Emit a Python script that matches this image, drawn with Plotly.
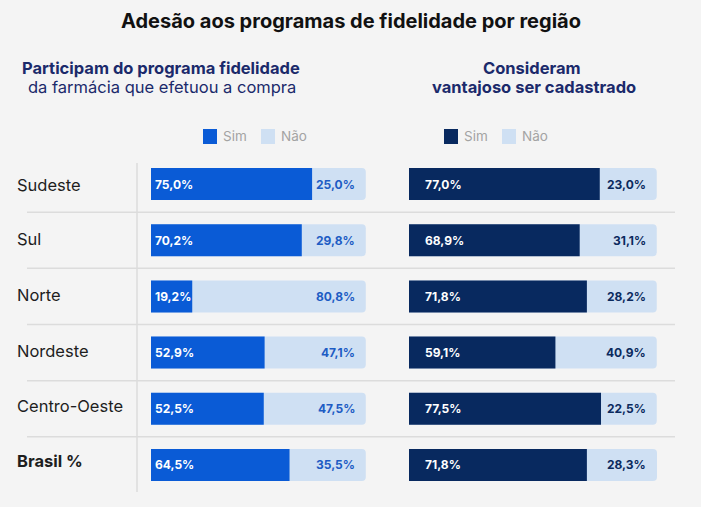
import plotly.graph_objects as go

regions = ["Sudeste", "Sul", "Norte", "Nordeste", "Centro-Oeste", "Brasil %"]
participam_sim = [75.0, 70.2, 19.2, 52.9, 52.5, 64.5]
participam_nao = [25.0, 29.8, 80.8, 47.1, 47.5, 35.5]
vantajoso_sim = [77.0, 68.9, 71.8, 59.1, 77.5, 71.8]
vantajoso_nao = [23.0, 31.1, 28.2, 40.9, 22.5, 28.3]

W, H = 701, 507
BG = "#f4f4f4"
FONT = "Inter"
LEFT_DARK = "#0a5bd6"
RIGHT_DARK = "#08295f"
LIGHT = "#cfe0f3"
LEFT_TXT = "#1d5cc4"
RIGHT_TXT = "#0b2a5e"
NAVY = "#1b2a6b"


def px(x):
    return x / W


def py(y):
    return 1 - y / H


def fmt(v):
    return f"{v:.1f}".replace(".", ",") + "%"


fig = go.Figure()
panels = [
    ("x", participam_sim, participam_nao, LEFT_DARK, LEFT_TXT, 2, 9),
    ("x2", vantajoso_sim, vantajoso_nao, RIGHT_DARK, RIGHT_TXT, 14, 9),
]
xmax = max(max(s + n for s, n in zip(participam_sim, participam_nao)),
           max(s + n for s, n in zip(vantajoso_sim, vantajoso_nao)))
annotations = []
for xa, sim, nao, dark, txtc, pad_l, pad_r in panels:
    totals = [s + n for s, n in zip(sim, nao)]
    fig.add_trace(go.Bar(x=totals, y=regions, orientation="h", xaxis=xa, yaxis="y",
                         marker=dict(color=LIGHT, cornerradius=4, line=dict(width=0)),
                         width=0.57, hoverinfo="skip", showlegend=False))
    fig.add_trace(go.Bar(x=sim, y=regions, orientation="h", xaxis=xa, yaxis="y",
                         marker=dict(color=dark, cornerradius=4, line=dict(width=0)),
                         width=0.57, hoverinfo="skip", showlegend=False))
    for r, s, n, t in zip(regions, sim, nao, totals):
        annotations.append(dict(x=0, y=r, xref=xa, yref="y", text=f"<b>{fmt(s)}</b>",
                                showarrow=False, xanchor="left", xshift=pad_l,
                                font=dict(family=FONT, size=12, color="white")))
        annotations.append(dict(x=t, y=r, xref=xa, yref="y", text=f"<b>{fmt(n)}</b>",
                                showarrow=False, xanchor="right", xshift=-pad_r,
                                font=dict(family=FONT, size=12, color=txtc)))

# row labels
label_dy = [-1, 1, 1, 2, 3, 4]
for r, dy in zip(regions, label_dy):
    txt = f"<b>{r}</b>" if r.startswith("Brasil") else r
    annotations.append(dict(x=px(17), y=r, xref="paper", yref="y", text=txt,
                            showarrow=False, xanchor="left", yshift=dy, xshift=-2,
                            font=dict(family=FONT, size=16.5, color="#1e1e1e")))

# titles
annotations += [
    dict(x=0.5, y=py(21), xref="paper", yref="paper", text="<b>Adesão aos programas de fidelidade por região</b>",
         showarrow=False, xanchor="center", yanchor="middle",
         font=dict(family=FONT, size=20, color="#111111")),
    dict(x=px(161), y=py(68), xref="paper", yref="paper", text="<b>Participam do programa fidelidade</b>",
         showarrow=False, xanchor="center", yanchor="middle",
         font=dict(family=FONT, size=16.5, color=NAVY)),
    dict(x=px(162), y=py(87), xref="paper", yref="paper", text="da farmácia que efetuou a compra",
         showarrow=False, xanchor="center", yanchor="middle",
         font=dict(family=FONT, size=16.5, color=NAVY)),
    dict(x=px(532), y=py(68), xref="paper", yref="paper", text="<b>Consideram</b>",
         showarrow=False, xanchor="center", yanchor="middle",
         font=dict(family=FONT, size=16.5, color=NAVY)),
    dict(x=px(534), y=py(87), xref="paper", yref="paper", text="<b>vantajoso ser cadastrado</b>",
         showarrow=False, xanchor="center", yanchor="middle",
         font=dict(family=FONT, size=16.5, color=NAVY)),
]

shapes = []
# legends
for x0, col, label in [(203, LEFT_DARK, "Sim"), (261, LIGHT, "Não"),
                       (444, RIGHT_DARK, "Sim"), (502, LIGHT, "Não")]:
    shapes.append(dict(type="rect", xref="paper", yref="paper", x0=px(x0), x1=px(x0 + 14),
                       y0=py(144), y1=py(129), fillcolor=col, line=dict(width=0)))
    annotations.append(dict(x=px(x0 + 18), y=py(136.5), xref="paper", yref="paper", text=label,
                            showarrow=False, xanchor="left", yanchor="middle",
                            font=dict(family=FONT, size=13.5, color="#a3a3a3")))

# separators
for i in range(len(regions) - 1):
    shapes.append(dict(type="line", xref="paper", yref="y", x0=px(27), x1=px(675),
                       y0=i + 0.5, y1=i + 0.5, line=dict(color="#dcdcdc", width=1.5), layer="below"))
shapes.append(dict(type="line", xref="paper", yref="paper", x0=px(137), x1=px(137),
                   y0=py(163), y1=py(492), line=dict(color="#dcdcdc", width=1.5), layer="below"))

fig.update_layout(
    width=W, height=H, margin=dict(l=0, r=0, t=0, b=0),
    paper_bgcolor=BG, plot_bgcolor=BG, barmode="overlay",
    xaxis=dict(domain=[px(151), px(366)], range=[0, xmax], visible=False, fixedrange=True),
    xaxis2=dict(domain=[px(409), px(657)], range=[0, xmax], visible=False, anchor="y", fixedrange=True),
    yaxis=dict(domain=[py(493), py(156)], categoryorder="array", categoryarray=regions,
               range=[5.5, -0.5], visible=False, fixedrange=True),
    annotations=annotations, shapes=shapes, showlegend=False,
)

fig.write_html("out.html")
